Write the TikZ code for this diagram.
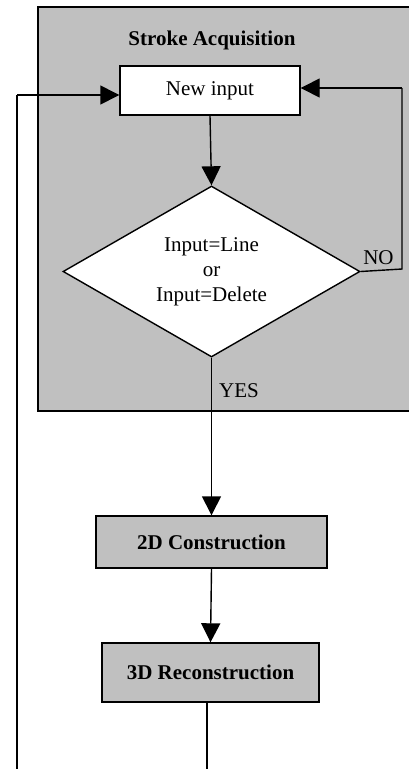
\documentclass[tikz,border=0pt]{standalone}
\usepackage{fontspec}
\setmainfont{Liberation Serif}
\usetikzlibrary{shapes.geometric,arrows.meta,calc}
\definecolor{panelgray}{HTML}{C0C0C0}
\tikzset{
  txt/.style={font=\fontsize{21pt}{25pt}\selectfont},
  boxtxt/.style={txt,font=\fontsize{21pt}{25pt}\selectfont\bfseries},
  procbox/.style={draw,line width=1.4pt,fill=panelgray,rectangle,inner sep=0pt,boxtxt},
  whitebox/.style={draw,line width=1.4pt,fill=white,rectangle,inner sep=0pt,txt},
  decision/.style={draw,line width=1.4pt,fill=white,shape=diamond,aspect=1.74,
    inner sep=0pt,minimum width=297pt,minimum height=171pt,align=center,txt},
  flow/.style={line width=1.4pt,-{Triangle[length=19pt,width=19pt]}},
  plain/.style={line width=1.4pt},
}
\begin{document}
\begin{tikzpicture}[x=1pt,y=-1pt]
  \useasboundingbox (0,0) rectangle (409,769);
  % stroke acquisition panel (runs past the right edge)
  \draw[fill=panelgray,line width=2pt] (37.7,7) rectangle (430,410.5);
  \node[boxtxt,anchor=base,inner sep=0pt] (title) at (212,45) {Stroke Acquisition};

  \node[whitebox,minimum width=180pt,minimum height=49pt] (newin) at (210,90.5) {New input};
  \node[decision] (dec) at (211.5,271.5) {Input=Line\\or\\Input=Delete};
  \node[procbox,minimum width=231pt,minimum height=52pt] (b2d) at (211.5,542) {2D Construction};
  \node[procbox,minimum width=217pt,minimum height=59pt] (b3d) at (210.5,672.5) {3D Reconstruction};

  % loop helpers
  \coordinate (noR) at (402,269);
  \coordinate (noTop) at (402,88);
  \coordinate (retL) at (17,95);
  \coordinate (retB) at (17,800);
  \coordinate (outB) at (207,800);

  % main flow
  \draw[flow] (newin.south) -- (dec.north);
  \draw[flow] (dec.south) -- (b2d.north);
  \draw[flow] (b2d.south) -- (b3d.north);

  % NO branch back to the input
  \draw[plain] (dec.east) -- (noR) -- (noTop);
  \draw[flow] (noTop) -- (newin.east |- noTop);

  % return path from the reconstruction
  \draw[plain] (b3d.south -| outB) -- (outB) -- (retB) -- (retL);
  \draw[flow] (retL) -- (newin.west |- retL);

  % branch labels
  \node[txt,anchor=base,inner sep=0pt] (nolbl) at (378.5,264) {NO};
  \node[txt,anchor=base west,inner sep=0pt] (yeslbl) at (219,397) {YES};
\end{tikzpicture}
\end{document}
